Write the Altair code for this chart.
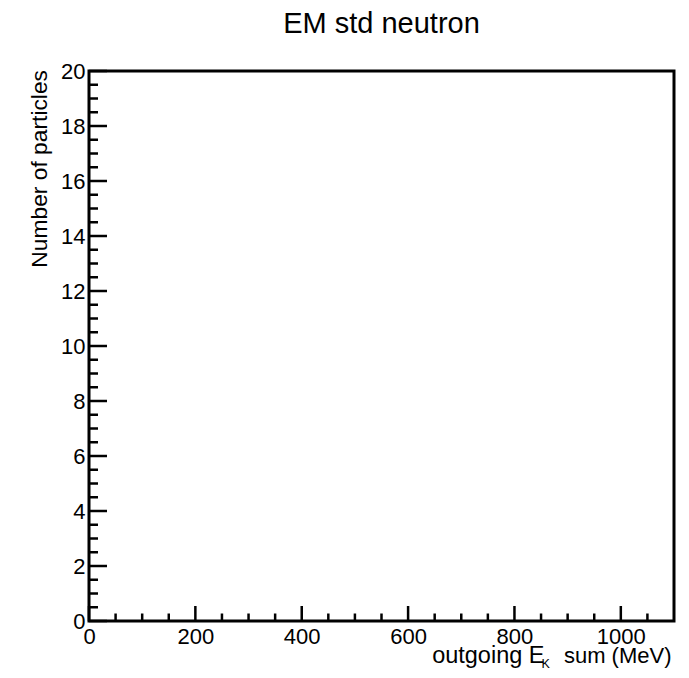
import altair as alt
import pandas as pd

# ---- data (an empty histogram: only axes, ticks and texts) ----
title_text = ["EM std neutron"]
ytitle_text = ["Number of particles"]
xtitle_main = ["outgoing E"]
xtitle_sub = ["K"]
xtitle_tail = ["sum (MeV)"]

x_domain = [0, 1100]
y_domain = [0, 20]
x_major = [0, 200, 400, 600, 800, 1000]
x_minor = [50, 100, 150, 250, 300, 350, 450, 500, 550, 650, 700, 750,
           850, 900, 950, 1050]
y_major = [0, 2, 4, 6, 8, 10, 12, 14, 16, 18, 20]
y_minor = [0.5, 1, 1.5, 2.5, 3, 3.5, 4.5, 5, 5.5, 6.5, 7, 7.5, 8.5, 9, 9.5,
           10.5, 11, 11.5, 12.5, 13, 13.5, 14.5, 15, 15.5, 16.5, 17, 17.5,
           18.5, 19, 19.5]

W, H = 585, 550
FONT = "Liberation Sans"

xs = alt.Scale(domain=x_domain, nice=False, zero=False)
ys = alt.Scale(domain=y_domain, nice=False, zero=False)

x_axis = alt.Axis(values=x_major, ticks=False, domain=False, grid=False, title=None,
                  labelFont=FONT, labelFontSize=22, labelColor="black",
                  labelPadding=5, labelFlush=False, labelOverlap=False, format="d")
y_axis = alt.Axis(values=y_major, ticks=False, domain=False, grid=False, title=None,
                  labelFont=FONT, labelFontSize=22, labelColor="black",
                  labelPadding=4, labelFlush=False, labelOverlap=False, format="d")

xmaj = alt.Chart(pd.DataFrame({"x": x_major})).mark_rule(color="black", strokeWidth=2.5).encode(
    x=alt.X("x:Q", scale=xs, axis=x_axis), y=alt.value(H), y2=alt.value(H - 15))
xmin = alt.Chart(pd.DataFrame({"x": x_minor})).mark_rule(color="black", strokeWidth=2.5).encode(
    x=alt.X("x:Q", scale=xs, axis=x_axis), y=alt.value(H), y2=alt.value(H - 7.5))
ymaj = alt.Chart(pd.DataFrame({"y": y_major})).mark_rule(color="black", strokeWidth=2.5).encode(
    y=alt.Y("y:Q", scale=ys, axis=y_axis), x=alt.value(0), x2=alt.value(18))
ymin = alt.Chart(pd.DataFrame({"y": y_minor})).mark_rule(color="black", strokeWidth=2.5).encode(
    y=alt.Y("y:Q", scale=ys, axis=y_axis), x=alt.value(0), x2=alt.value(9))

title = alt.Chart(pd.DataFrame({"t": title_text})).mark_text(
    font=FONT, fontSize=29, align="center", baseline="alphabetic", color="black").encode(
    text="t:N", x=alt.value(W / 2), y=alt.value(-37.7))

ytitle = alt.Chart(pd.DataFrame({"t": ytitle_text})).mark_text(
    font=FONT, fontSize=22.8, align="right", baseline="alphabetic", angle=270, color="black").encode(
    text="t:N", x=alt.value(-42), y=alt.value(-1))

xt1 = alt.Chart(pd.DataFrame({"t": xtitle_main})).mark_text(
    font=FONT, fontSize=23.5, align="right", baseline="alphabetic", color="black").encode(
    text="t:N", x=alt.value(455.5), y=alt.value(591.5))
xt2 = alt.Chart(pd.DataFrame({"t": xtitle_sub})).mark_text(
    font=FONT, fontSize=12.5, align="left", baseline="alphabetic", color="black").encode(
    text="t:N", x=alt.value(452.5), y=alt.value(596.5))
xt3 = alt.Chart(pd.DataFrame({"t": xtitle_tail})).mark_text(
    font=FONT, fontSize=22, align="right", baseline="alphabetic", color="black").encode(
    text="t:N", x=alt.value(582.5), y=alt.value(591.5))

chart = alt.layer(xmaj, xmin, ymaj, ymin, title, ytitle, xt1, xt2, xt3).properties(
    width=W, height=H,
    autosize=alt.AutoSizeParams(type="none"),
    padding={"left": 81, "top": 63, "right": 7, "bottom": 48},
    background="white",
).configure_view(stroke="black", strokeWidth=3)

chart.save("out.html", embed_options={"renderer": "svg", "actions": False})
